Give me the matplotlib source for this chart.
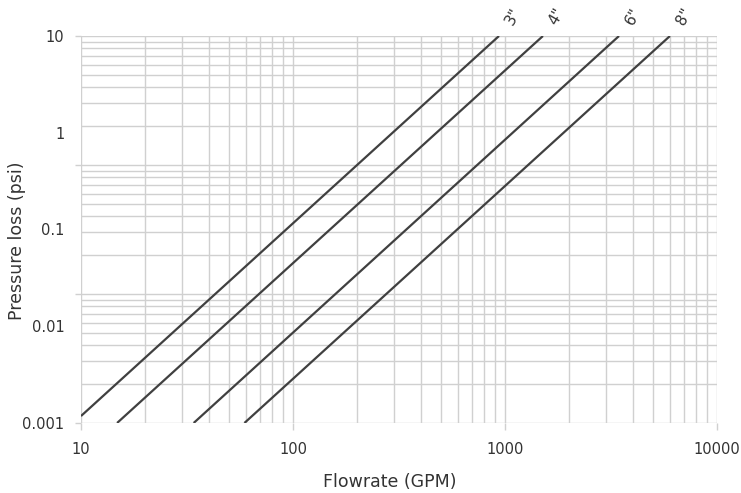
import numpy as np
import matplotlib
matplotlib.use("Agg")
import matplotlib.pyplot as plt
from matplotlib.ticker import LogLocator, FixedFormatter, FixedLocator
import matplotlib.transforms as mtransforms

# pipe sizes and end points of each loss line (flow GPM, pressure psi)
sizes = ['3"', '4"', '6"', '8"']
flow_start = [10, 14.8, 34, 59]
flow_end = [937, 1510, 3450, 6000]
psi_start = [0.00118, 0.001, 0.001, 0.001]
psi_end = [10, 10, 10, 10]

x_ticks = [10, 100, 1000, 10000]
x_labels = ["10", "100", "1000", "10000"]
y_ticks = [0.001, 0.01, 0.1, 1, 10]
y_labels = ["0.001", "0.01", "0.1", "1", "10"]

text_col = "#333333"
grid_col = "#d0d0d0"

fig = plt.figure(figsize=(7.41, 4.93), dpi=100)
ax = fig.add_axes([0.1093, 0.142, 0.8583, 0.785])
ax.set_xscale("log")
ax.set_yscale("log")
ax.set_xlim(10, 10000)
ax.set_ylim(0.001, 10)

for s, x0, x1, y0, y1 in zip(sizes, flow_start, flow_end, psi_start, psi_end):
    ax.plot([x0, x1], [y0, y1], color="#404040", lw=1.6, solid_capstyle="butt", zorder=3)
    ax.annotate(s, (x1, y1), xytext=(10, 14), textcoords="offset points",
                rotation=60, ha="center", va="center", fontsize=11,
                color=text_col, annotation_clip=False)

# x: normal log grid
ax.xaxis.set_major_locator(FixedLocator(x_ticks))
ax.xaxis.set_major_formatter(FixedFormatter(x_labels))
ax.xaxis.set_minor_locator(LogLocator(base=10, subs=np.arange(2, 10)))
ax.xaxis.set_minor_formatter(plt.NullFormatter())
ax.grid(True, axis="x", which="both", color=grid_col, lw=1.0)

# y: labels every decade, but the background grid is a 3-decade log paper
ax.yaxis.set_major_locator(FixedLocator(y_ticks))
ax.yaxis.set_major_formatter(FixedFormatter(y_labels))
ax.yaxis.set_minor_locator(plt.NullLocator())
paper = np.concatenate([np.arange(1, 10) * 10.0 ** k for k in range(3)] + [[1000.0]])
paper_y = 10.0 ** (-3 + np.log10(paper) * 4 / 3)
paper_major = 10.0 ** (-3 + np.arange(4) * 4 / 3)
trans = mtransforms.blended_transform_factory(ax.transAxes, ax.transData)
ax.hlines(paper_y, 0, 1, transform=trans, color=grid_col, lw=1.0, zorder=1)
ax.hlines(paper_major, -0.01, 0, transform=trans, color=grid_col, lw=1.0,
          clip_on=False, zorder=1)

ax.tick_params(axis="x", which="major", length=5, color=grid_col, width=1.0,
               labelsize=10.5, labelcolor=text_col, pad=9)
ax.tick_params(axis="y", which="major", length=0, labelsize=10.5,
               labelcolor=text_col, pad=12)
ax.tick_params(which="minor", length=0)
for sp in ax.spines.values():
    sp.set_visible(False)

ax.set_xlabel("Flowrate (GPM)", fontsize=12.5, color=text_col)
ax.set_ylabel("Pressure loss (psi)", fontsize=12.5, color=text_col)
ax.xaxis.set_label_coords(0.486, -0.13)
ax.yaxis.set_label_coords(-0.087, 0.47)

fig.savefig("out.png", dpi=100)
